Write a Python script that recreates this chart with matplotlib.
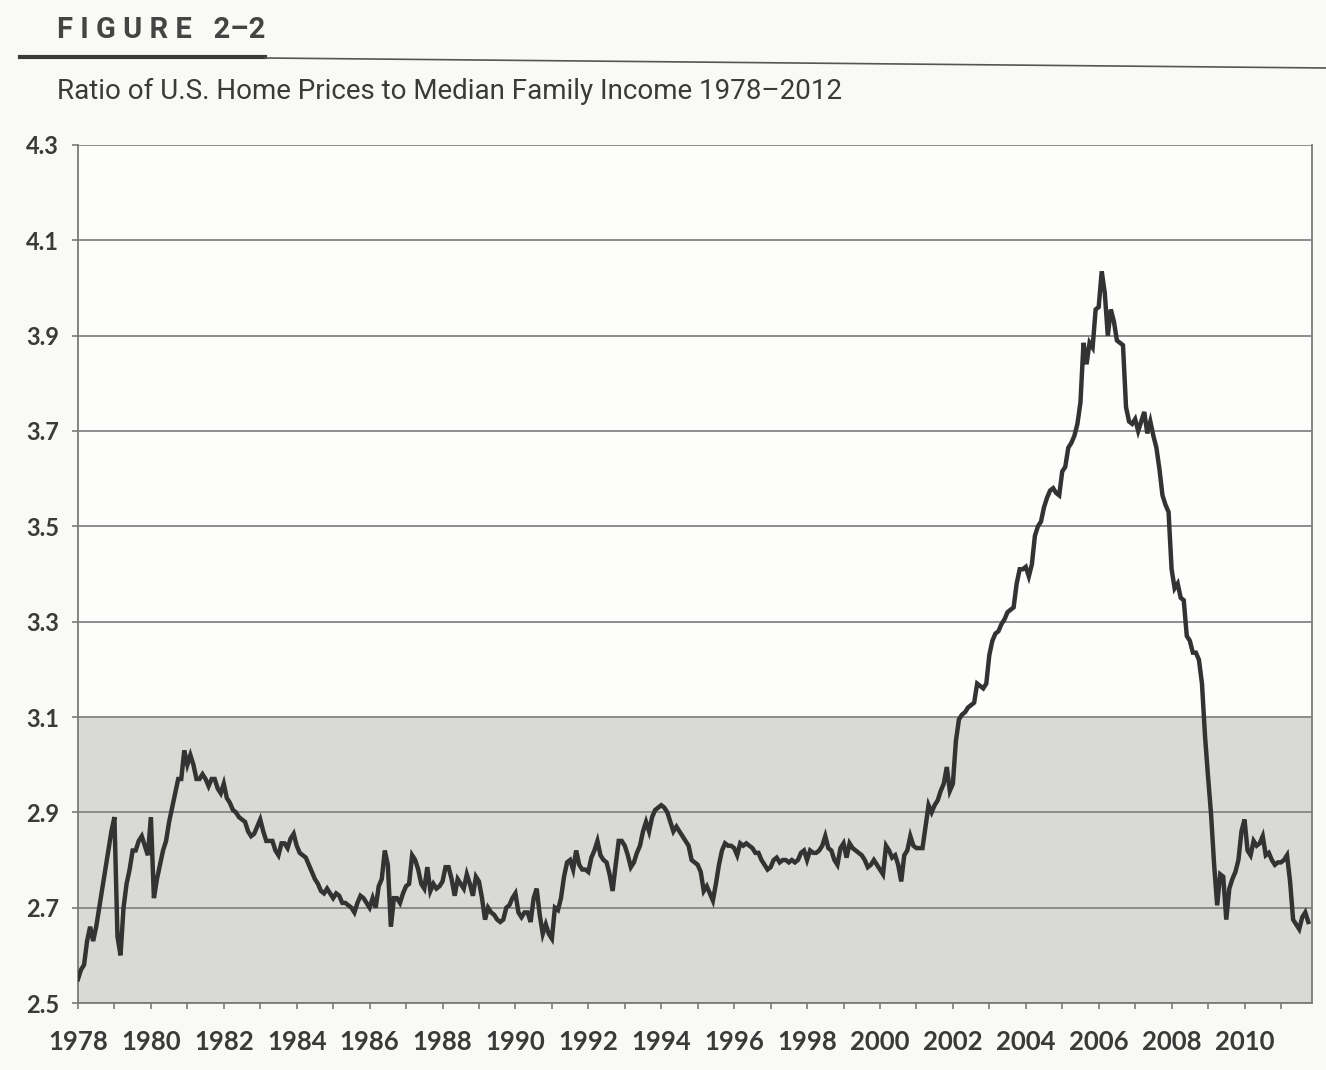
import numpy as np
import matplotlib
matplotlib.use('Agg')
import matplotlib.pyplot as plt
from matplotlib.lines import Line2D

# ratio, un valor por mes
y1978 = [2.55, 2.57, 2.58, 2.63, 2.66, 2.63, 2.66, 2.70, 2.74, 2.78, 2.82, 2.86]
y1979 = [2.89, 2.64, 2.60, 2.70, 2.75, 2.78, 2.82, 2.82, 2.84, 2.85, 2.83, 2.81]
y1980 = [2.89, 2.72, 2.76, 2.79, 2.82, 2.84, 2.88, 2.91, 2.94, 2.97, 2.97, 3.03]
y1981 = [3.00, 3.02, 3.00, 2.97, 2.97, 2.98, 2.97, 2.955, 2.97, 2.97, 2.95, 2.94]
y1982 = [2.96, 2.93, 2.92, 2.905, 2.90, 2.89, 2.885, 2.88, 2.86, 2.85, 2.855, 2.87]
y1983 = [2.885, 2.86, 2.84, 2.84, 2.84, 2.82, 2.81, 2.835, 2.835, 2.825, 2.845, 2.855]
y1984 = [2.83, 2.815, 2.81, 2.805, 2.79, 2.775, 2.76, 2.75, 2.735, 2.73, 2.74, 2.73]
y1985 = [2.72, 2.73, 2.725, 2.71, 2.71, 2.705, 2.70, 2.69, 2.71, 2.725, 2.72, 2.71]
y1986 = [2.70, 2.72, 2.70, 2.745, 2.76, 2.82, 2.79, 2.66, 2.72, 2.72, 2.71, 2.73]
y1987 = [2.745, 2.75, 2.81, 2.80, 2.78, 2.75, 2.74, 2.785, 2.735, 2.75, 2.74, 2.745]
y1988 = [2.755, 2.785, 2.785, 2.76, 2.725, 2.76, 2.75, 2.74, 2.77, 2.75, 2.725, 2.765]
y1989 = [2.755, 2.72, 2.675, 2.70, 2.69, 2.685, 2.675, 2.67, 2.675, 2.70, 2.705, 2.72]
y1990 = [2.73, 2.69, 2.68, 2.69, 2.69, 2.67, 2.72, 2.74, 2.685, 2.645, 2.665, 2.645]
y1991 = [2.635, 2.70, 2.695, 2.72, 2.765, 2.795, 2.80, 2.78, 2.82, 2.79, 2.78, 2.78]
y1992 = [2.775, 2.805, 2.82, 2.84, 2.81, 2.80, 2.795, 2.77, 2.735, 2.79, 2.84, 2.84]
y1993 = [2.83, 2.81, 2.785, 2.795, 2.815, 2.83, 2.86, 2.88, 2.86, 2.89, 2.905, 2.91]
y1994 = [2.915, 2.91, 2.90, 2.88, 2.86, 2.87, 2.86, 2.85, 2.84, 2.83, 2.80, 2.795]
y1995 = [2.79, 2.775, 2.735, 2.745, 2.73, 2.715, 2.75, 2.79, 2.82, 2.835, 2.83, 2.83]
y1996 = [2.825, 2.81, 2.835, 2.83, 2.835, 2.83, 2.825, 2.815, 2.815, 2.80, 2.79, 2.78]
y1997 = [2.785, 2.80, 2.805, 2.795, 2.80, 2.80, 2.795, 2.80, 2.795, 2.80, 2.815, 2.82]
y1998 = [2.80, 2.82, 2.815, 2.815, 2.82, 2.83, 2.85, 2.825, 2.82, 2.80, 2.79, 2.825]
y1999 = [2.835, 2.805, 2.835, 2.825, 2.82, 2.815, 2.81, 2.80, 2.785, 2.79, 2.80, 2.79]
y2000 = [2.78, 2.77, 2.83, 2.82, 2.805, 2.81, 2.79, 2.755, 2.81, 2.82, 2.85, 2.83]
y2001 = [2.825, 2.825, 2.825, 2.87, 2.915, 2.90, 2.915, 2.925, 2.945, 2.96, 2.995, 2.945]
y2002 = [2.96, 3.05, 3.095, 3.105, 3.11, 3.12, 3.125, 3.13, 3.17, 3.165, 3.16, 3.17]
y2003 = [3.23, 3.26, 3.275, 3.28, 3.295, 3.305, 3.32, 3.325, 3.33, 3.38, 3.41, 3.41]
y2004 = [3.415, 3.395, 3.42, 3.48, 3.50, 3.51, 3.54, 3.56, 3.575, 3.58, 3.57, 3.565]
y2005 = [3.615, 3.625, 3.665, 3.675, 3.69, 3.715, 3.76, 3.885, 3.84, 3.885, 3.875, 3.955]
y2006 = [3.96, 4.035, 3.99, 3.90, 3.955, 3.93, 3.89, 3.885, 3.88, 3.75, 3.72, 3.715]
y2007 = [3.725, 3.70, 3.72, 3.74, 3.695, 3.72, 3.69, 3.665, 3.62, 3.565, 3.545, 3.53]
y2008 = [3.41, 3.37, 3.38, 3.35, 3.345, 3.27, 3.26, 3.235, 3.235, 3.22, 3.17, 3.06]
y2009 = [2.975, 2.895, 2.79, 2.705, 2.77, 2.765, 2.675, 2.74, 2.76, 2.775, 2.80, 2.86]
y2010 = [2.885, 2.82, 2.81, 2.84, 2.83, 2.835, 2.85, 2.81, 2.815, 2.80, 2.79, 2.795]
y2011 = [2.795, 2.80, 2.81, 2.755, 2.675, 2.665, 2.655, 2.68, 2.69, 2.67]

anio_inicio = 1978
ticks_y = [2.5, 2.7, 2.9, 3.1, 3.3, 3.5, 3.7, 3.9, 4.1, 4.3]
etiquetas_x = list(range(1978, 2011, 2))
banda = (2.5, 3.1)

titulo_figura = "F I G U R E   2–2"
titulo = "Ratio of U.S. Home Prices to Median Family Income 1978–2012"


def juntar_meses():
    anios = [y1978, y1979, y1980, y1981, y1982, y1983, y1984, y1985, y1986,
             y1987, y1988, y1989, y1990, y1991, y1992, y1993, y1994, y1995,
             y1996, y1997, y1998, y1999, y2000, y2001, y2002, y2003, y2004,
             y2005, y2006, y2007, y2008, y2009, y2010, y2011]
    valores = []
    for anio in anios:
        valores.extend(anio)
    return valores


def grafico():
    valores = juntar_meses()
    x = [anio_inicio + i / 12 for i in range(len(valores))]

    fig = plt.figure(figsize=(13.26, 10.70), dpi=100, facecolor='#f9f9f6')
    ax = fig.add_axes([0.0588, 0.0626, 0.9306, 0.8019])
    ax.set_facecolor('#fdfdfb')

    ax.axhspan(banda[0], banda[1], color='#d9d9d6', zorder=0)
    for v in ticks_y:
        ax.axhline(v, color='#858585', lw=1.3, zorder=1)

    ax.plot(x, valores, color='#333333', lw=3.2, zorder=3,
            solid_joinstyle='miter')

    ax.set_xlim(1978, 2011.85)
    ax.set_ylim(2.5, 4.3)
    ax.set_yticks(ticks_y)
    ax.set_yticklabels([f"{v:.1f}" for v in ticks_y])
    ax.set_xticks(etiquetas_x)
    ax.set_xticklabels([str(a) for a in etiquetas_x])
    ax.set_xticks(range(1978, 2012), minor=True)

    for s in ['left', 'right', 'bottom']:
        ax.spines[s].set_color('#7a7a7a')
        ax.spines[s].set_linewidth(1.3)
    ax.spines['top'].set_visible(False)

    ax.tick_params(axis='y', length=4.5, width=1.2, color='#7a7a7a', pad=9,
                   labelsize=17, labelcolor='#3a3a3a')
    ax.tick_params(axis='x', which='both', length=4.5, width=1.2,
                   color='#7a7a7a', pad=15, labelsize=18.5, labelcolor='#3a3a3a')
    for lab in ax.get_yticklabels() + ax.get_xticklabels():
        lab.set_fontweight('bold')
        lab.set_family(['Lato', 'DejaVu Sans'])

    fig.text(57 / 1326, 1 - 30 / 1070, titulo_figura, fontsize=21,
             fontweight='bold', color='#444444', va='center', ha='left',
             family=['Roboto', 'DejaVu Sans'])
    fig.add_artist(Line2D([20 / 1326, 265 / 1326], [1 - 57 / 1070] * 2,
                          color='#3a3a3a', lw=3))
    fig.add_artist(Line2D([265 / 1326, 1.0], [1 - 58 / 1070, 1 - 68 / 1070],
                          color='#555555', lw=1.2))
    fig.text(57 / 1326, 1 - 91 / 1070, titulo, fontsize=20, color='#3a3a3a',
             va='center', ha='left', family=['Roboto', 'DejaVu Sans'])

    fig.savefig('out.png', dpi=100, facecolor=fig.get_facecolor())


if __name__ == "__main__":
    grafico()
